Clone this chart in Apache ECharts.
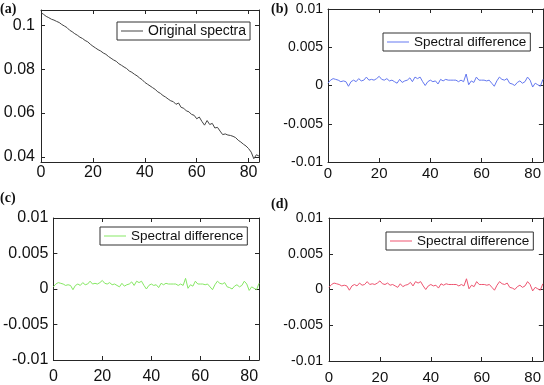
<!DOCTYPE html>
<html>
<head>
<meta charset="utf-8">
<script src="https://cdn.jsdelivr.net/npm/echarts@6/dist/echarts.min.js"></script>
<style>html,body{margin:0;padding:0;background:#fff}#c{width:544px;height:385px}</style>
</head>
<body>
<div id="c"></div>
<script>
// ---- data ----
var originalSpectra = [
0.1058,0.1050,0.1041,0.1035,0.1028,0.1024,0.1018,0.1013,0.1004,0.0997,
0.0990,0.0978,0.0971,0.0962,0.0955,0.0946,0.0940,0.0931,0.0925,0.0914,
0.0905,0.0897,0.0889,0.0883,0.0874,0.0868,0.0858,0.0850,0.0842,0.0836,
0.0825,0.0818,0.0810,0.0803,0.0792,0.0786,0.0777,0.0770,0.0760,0.0752,
0.0740,0.0732,0.0724,0.0716,0.0708,0.0697,0.0690,0.0680,0.0673,0.0664,
0.0656,0.0652,0.0640,0.0646,0.0626,0.0622,0.0610,0.0606,0.0594,0.0590,
0.0574,0.0582,0.0562,0.0545,0.0566,0.0548,0.0553,0.0532,0.0535,0.0518,
0.0502,0.0505,0.0500,0.0498,0.0494,0.0488,0.0476,0.0468,0.0458,0.0450,
0.0438,0.0422,0.0392,0.0410,0.0404];
var diffB = [
0.0003,0.0007,0.0009,0.0008,0.0007,0.0005,0.0006,0.0005,-0.0001,0.0005,
0.0007,0.0005,0.0009,0.0006,0.0007,0.0011,0.0007,0.0008,0.0007,0.0009,
0.0012,0.0008,0.0007,0.0009,0.0006,0.0007,0.0005,0.0003,0.0008,0.0004,
0.0006,0.0007,0.0010,0.0005,0.0011,0.0009,0.0011,0.0005,0.0000,0.0005,
0.0007,0.0005,0.0006,0.0002,0.0008,0.0006,0.0008,0.0007,0.0007,0.0007,
0.0007,0.0005,0.0007,0.0005,0.0015,0.0001,0.0006,0.0004,0.0011,0.0007,
0.0007,0.0007,0.0006,0.0007,0.0003,-0.0001,0.0006,0.0011,0.0008,0.0007,
0.0009,0.0003,0.0002,0.0000,0.0004,0.0006,0.0003,0.0005,0.0011,0.0007,
-0.0002,0.0003,0.0001,-0.0001,0.0008];
var diffC = diffB.slice();
var diffD = diffB.slice();
var xTicks = [0, 20, 40, 60, 80];
var panelLabels = ['(a)', '(b)', '(c)', '(d)'];
var legendNames = ['Original spectra', 'Spectral difference', 'Spectral difference', 'Spectral difference'];

// ---- layout ----
var FONT = 'Liberation Sans';
var grids = [
  {left: 41, top: 10, width: 218, height: 152},
  {left: 328, top: 9, width: 215, height: 153},
  {left: 43, top: 218, width: 216, height: 148},
  {left: 329, top: 218, width: 214, height: 148}
];
var xMargins = [3, 4, 9, 9];
var yMargins = [6, 5, 5, 6];
var xFont = [16, 15, 16, 15];
var yFont = [16, 14, 16, 14];
var legFont = [14, 13.5, 13.5, 13.5];
var legendPos = [
  {left: 117, top: 22},
  {left: 383, top: 33},
  {left: 100, top: 227},
  {left: 386, top: 232}
];
var labelPos = [[0, 2], [271, 2], [0, 191], [271, 197]];
var colors = ['#444444', '#6478f0', '#86e864', '#ee5470'];
var seriesData = [originalSpectra, diffB, diffC, diffD];
var axisCol = '#262626';

function pairs(arr){ return arr.map(function(v,i){ return [i, v]; }); }

var xAxes = [], yAxes = [], series = [], legends = [], graphics = [];
for (var g = 0; g < 4; g++) {
  var xBase = {
    gridIndex: g, type: 'value', min: 0, max: 84, interval: 20,
    axisLine: {show: true, onZero: false, lineStyle: {color: axisCol, width: 1}},
    axisTick: {show: true, inside: true, length: 4, lineStyle: {color: axisCol}},
    splitLine: {show: false}
  };
  xAxes.push(Object.assign({}, xBase, {position: 'bottom',
    axisLabel: {show: true, fontFamily: FONT, fontSize: xFont[g], color: '#111', margin: xMargins[g], showMaxLabel: false, showMinLabel: true}}));
  xAxes.push(Object.assign({}, xBase, {position: 'top', axisLabel: {show: false}}));

  var yBase;
  if (g === 0) {
    yBase = {gridIndex: g, type: 'value', min: 0.0377, max: 0.107, splitNumber: 3};
  } else {
    yBase = {gridIndex: g, type: 'value', min: -0.01, max: 0.01, interval: 0.005};
  }
  yBase.axisLine = {show: true, onZero: false, lineStyle: {color: axisCol, width: 1}};
  yBase.axisTick = {show: true, inside: true, length: 4, lineStyle: {color: axisCol}};
  yBase.splitLine = {show: false};
  yAxes.push(Object.assign({}, yBase, {position: 'left',
    axisLabel: {show: true, fontFamily: FONT, fontSize: yFont[g], color: '#111', margin: yMargins[g],
      showMinLabel: g !== 0, showMaxLabel: g !== 0}}));
  yAxes.push(Object.assign({}, yBase, {position: 'right', axisLabel: {show: false}}));

  var sname = legendNames[g] + '#' + g;
  series.push({
    name: sname, type: 'line', xAxisIndex: 2*g, yAxisIndex: 2*g,
    data: pairs(seriesData[g]), showSymbol: false, symbol: 'none',
    lineStyle: {color: colors[g], width: 1}, itemStyle: {color: colors[g]},
    animation: false, silent: true
  });
  (function(txt, fs){
    legends.push({
      data: [sname], left: legendPos[g].left, top: legendPos[g].top,
      orient: 'horizontal', selectedMode: false,
      icon: 'rect', itemWidth: 22, itemHeight: 1,
      padding: [2, 4, 2, 4], borderColor: '#333', borderWidth: 1, backgroundColor: '#fff',
      formatter: function(){ return txt; },
      textStyle: {fontFamily: FONT, fontSize: fs, color: '#111'}
    });
  })(legendNames[g], legFont[g]);
  graphics.push({
    type: 'text', left: labelPos[g][0], top: labelPos[g][1],
    style: {text: panelLabels[g], font: 'bold 14px "Liberation Serif"', fill: '#111'}
  });
}

var chart = echarts.init(document.getElementById('c'), null, {renderer: 'canvas'});
chart.setOption({
  animation: false,
  backgroundColor: '#fff',
  grid: grids.map(function(gr){ return Object.assign({containLabel: false}, gr); }),
  xAxis: xAxes,
  yAxis: yAxes,
  series: series,
  legend: legends,
  graphic: graphics
});
</script>
</body>
</html>
